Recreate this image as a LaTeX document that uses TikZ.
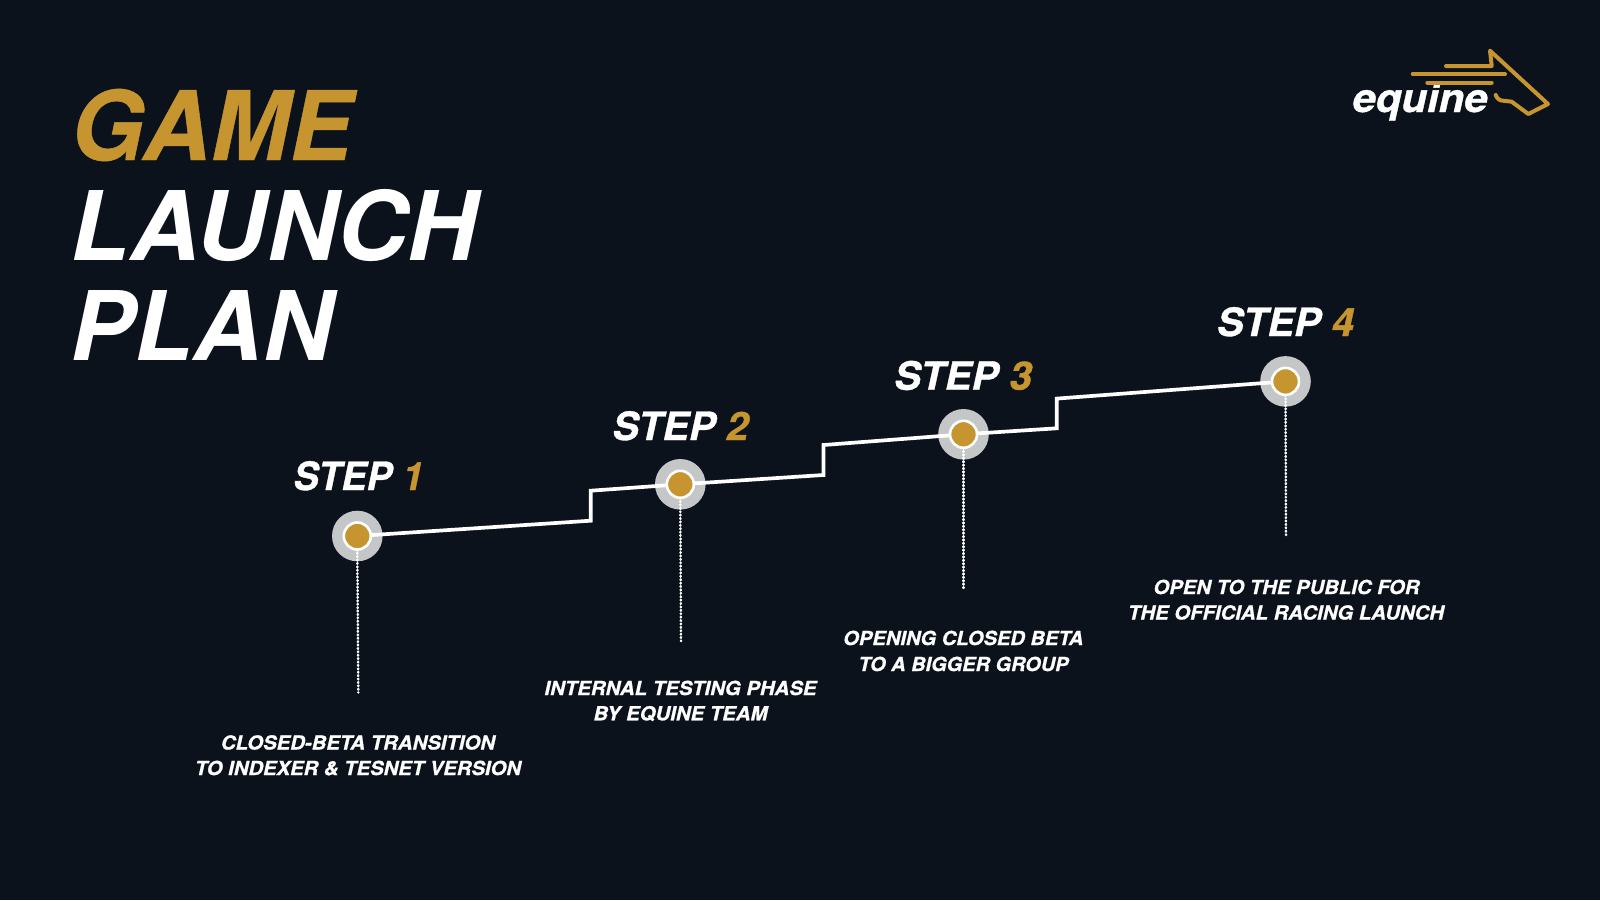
\documentclass[tikz,border=0pt]{standalone}
\usepackage{fontspec}
\usepackage{graphicx}
\setmainfont{TeX Gyre Heros}
\newfontfamily\heavyA{TeX Gyre Heros}[BoldItalicFeatures={FakeBold=0.5}]
\newfontfamily\heavyB{TeX Gyre Heros}[BoldItalicFeatures={FakeBold=0.9}]
\usetikzlibrary{calc}
\definecolor{bg}{HTML}{0C121C}
\definecolor{gold}{HTML}{C6952F}
\definecolor{halo}{HTML}{C5C6C8}
\pgfdeclarelayer{back}
\pgfdeclarelayer{mid}
\pgfsetlayers{back,mid,main}
\newcommand{\fitw}[2]{\resizebox{#1pt}{\height}{#2}}
\tikzset{
  x=1pt,y=-1pt,
  txt/.style={inner sep=0pt,outer sep=0pt,anchor=base,text=white},
  titletxt/.style={txt,font=\fontsize{96}{96}\selectfont\bfseries\itshape},
  goldtitle/.style={txt,text=gold,font=\heavyA\fontsize{96}{96}\selectfont\bfseries\itshape},
  steptxt/.style={txt,font=\heavyB\fontsize{39}{39}\selectfont\bfseries\itshape},
  desctxt/.style={txt,font=\heavyB\fontsize{19.3}{19.3}\selectfont\bfseries\itshape},
  logotxt/.style={txt,font=\heavyB\fontsize{40}{40}\selectfont\bfseries\itshape},
  halodisc/.style={circle,fill=halo,minimum size=50.6pt,inner sep=0pt,outer sep=0pt},
  ringdot/.style={circle,fill=gold,draw=white,line width=2.6pt,minimum size=27pt,inner sep=0pt,outer sep=0pt},
  stepline/.style={draw=white,line width=3.7pt,line join=miter},
  beadline/.style={draw=white,line width=2.5pt,line cap=round,dash pattern=on 0.7pt off 2.7pt},
  logoline/.style={draw=gold,line width=4pt,line cap=round,line join=round},
}
\begin{document}
\begin{tikzpicture}
\useasboundingbox (0,0) rectangle (1600,900);
\begin{pgfonlayer}{back}
  \fill[bg] (0,0) rectangle (1600,900);
  \node[halodisc] (h1) at (357.3,536) {};
  \node[halodisc] (h2) at (680.3,484.3) {};
  \node[halodisc] (h3) at (963.5,434.3) {};
  \node[halodisc] (h4) at (1285.5,381.4) {};
\end{pgfonlayer}
% ring dots
\node[ringdot] (r1) at (h1) {};
\node[ringdot] (r2) at (h2) {};
\node[ringdot] (r3) at (h3) {};
\node[ringdot] (r4) at (h4) {};
% stair corners
\coordinate (a1) at (590.7,520.7);
\coordinate (b1) at (590.7,490.7);
\coordinate (a2) at (823.5,475);
\coordinate (b2) at (823.5,445);
\coordinate (a3) at (1056.7,428.3);
\coordinate (b3) at (1056.7,398.6);
% bead ends
\coordinate (e1) at (358.3,692.5);
\coordinate (e2) at (681,641);
\coordinate (e3) at (963.5,590.5);
\coordinate (e4) at (1286,537.5);
\begin{pgfonlayer}{mid}
  \draw[stepline] (h1.center) -- (a1) -- (b1) -- (h2.center) -- (a2) -- (b2) -- (h3.center) -- (a3) -- (b3) -- (h4.center);
  \draw[beadline] (r1.south) -- (e1);
  \draw[beadline] (r2.south) -- (e2);
  \draw[beadline] (r3.south) -- (e3);
  \draw[beadline] (r4.south) -- (e4);
\end{pgfonlayer}
% title
\node[goldtitle] (t1) at (211.5,160) {\fitw{281}{GAME}};
\node[titletxt] (t2) at (274,260) {\fitw{406}{LAUNCH}};
\node[titletxt] (t3) at (201.5,360) {\fitw{262}{PLAN}};
% steps
\node[steptxt] (s1) at (358.5,490) {\fitw{130}{STEP \textcolor{gold}{1}}};
\node[steptxt] (s2) at (680.5,440) {\fitw{136}{STEP \textcolor{gold}{2}}};
\node[steptxt] (s3) at (963,389.7) {\fitw{137.5}{STEP \textcolor{gold}{3}}};
\node[steptxt] (s4) at (1285.5,336) {\fitw{137}{STEP \textcolor{gold}{4}}};
% descriptions
\node[desctxt] (d1a) at (358,749.5) {\fitw{274}{CLOSED-BETA TRANSITION}};
\node[desctxt] (d1b) at (358,775) {\fitw{326}{TO INDEXER \& TESNET VERSION}};
\node[desctxt] (d2a) at (680.5,695) {\fitw{272}{INTERNAL TESTING PHASE}};
\node[desctxt] (d2b) at (680.5,720.3) {\fitw{174}{BY EQUINE TEAM}};
\node[desctxt] (d3a) at (963.3,645) {\fitw{240}{OPENING CLOSED BETA}};
\node[desctxt] (d3b) at (963.5,671) {\fitw{210}{TO A BIGGER GROUP}};
\node[desctxt] (d4a) at (1286.5,594) {\fitw{266}{OPEN TO THE PUBLIC FOR}};
\node[desctxt] (d4b) at (1286,619.5) {\fitw{316}{THE OFFICIAL RACING LAUNCH}};
% logo
\node[logotxt] (lg) at (1420,112) {\fitw{135}{equine}};
\draw[logoline] (1446,66) -- (1491.7,66) -- (1490,50.7) -- (1548,104) -- (1528.3,114) -- (1511.7,101.7) -- (1503,100.7) to[out=180,in=-70] (1495.7,95);
\draw[logoline] (1412.7,74) -- (1505,74);
\draw[logoline] (1427.3,82.7) -- (1491.7,82.7);
\end{tikzpicture}
\end{document}
